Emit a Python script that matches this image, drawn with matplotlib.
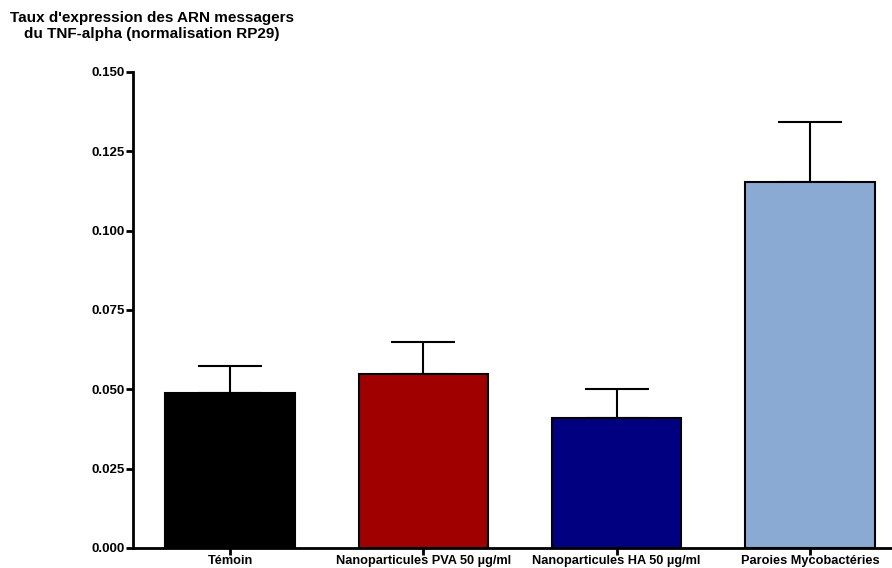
import matplotlib
matplotlib.use("Agg")
import matplotlib.pyplot as plt

categories = ["Témoin", "Nanoparticules PVA 50 µg/ml", "Nanoparticules HA 50 µg/ml", "Paroies Mycobactéries"]
values = [0.0488, 0.0549, 0.0410, 0.1153]
errors = [0.0087, 0.0101, 0.0091, 0.0189]
colors = ["#000000", "#a00000", "#000080", "#8aaad4"]
yticks = [0.000, 0.025, 0.050, 0.075, 0.100, 0.125, 0.150]
title = "Taux d'expression des ARN messagers\ndu TNF-alpha (normalisation RP29)"

plt.rcParams['font.family'] = ['Liberation Sans', 'DejaVu Sans']

fig = plt.figure(figsize=(8.92, 5.68), dpi=100)
ax = fig.add_axes([133/892, 1-548/568, 1-133/892, (548-72)/568])

x = list(range(len(categories)))
ax.bar(x, values, width=0.67, color=colors, edgecolor="black", linewidth=1.5, zorder=2)
ax.errorbar(x, values, yerr=[[0]*len(errors), errors], fmt="none", ecolor="black",
            elinewidth=1.5, capsize=23, capthick=1.5, zorder=1)

ax.set_xlim(-0.503, 3.425)
ax.set_ylim(0, 0.150)
ax.set_yticks(yticks)
ax.set_yticklabels([f"{v:.3f}" for v in yticks], fontweight="bold", fontsize=9.5)
ax.set_xticks(x)
ax.set_xticklabels(categories, fontweight="bold", fontsize=9.2)
for s in ["top", "right"]:
    ax.spines[s].set_visible(False)
for s in ["left", "bottom"]:
    ax.spines[s].set_linewidth(2)
ax.tick_params(axis="y", width=2, length=5, direction="out", pad=1)
ax.tick_params(axis="x", width=2, length=5, direction="out", pad=0)

fig.text(152/892, 1-11/568, title, ha="center", va="top", fontweight="bold",
         fontsize=11, linespacing=1.15)

fig.savefig("out.png", dpi=100)
